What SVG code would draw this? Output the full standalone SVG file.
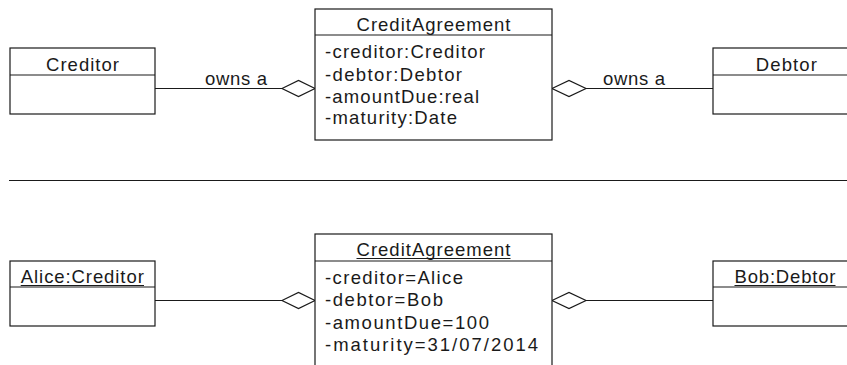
<svg xmlns="http://www.w3.org/2000/svg" width="847" height="365" viewBox="0 0 847 365">
<style>
  .box { fill: #ffffff; stroke: #1a1a1a; stroke-width: 1.2; }
  .sep { stroke: #1a1a1a; stroke-width: 1.2; fill: none; }
  .conn { stroke: #1a1a1a; stroke-width: 1.2; fill: none; }
  .dia { fill: #ffffff; stroke: #1a1a1a; stroke-width: 1.2; }
  .ul { stroke: #1a1a1a; stroke-width: 1.1; }
  text { font-family: "Liberation Sans", Arial, Helvetica, sans-serif; font-size: 18.5px; fill: #1a1a1a; }
  .c { text-anchor: middle; }
</style>
<rect width="847" height="365" fill="#ffffff"/>

<g id="connectors">
  <line class="conn" x1="155" y1="88.5" x2="282" y2="88.5"/>
  <polygon class="dia" points="282,88.5 298.5,80.5 315,88.5 298.5,96.5"/>
  <line class="conn" x1="586" y1="88.5" x2="713" y2="88.5"/>
  <polygon class="dia" points="552,88.5 569,80.5 586,88.5 569,96.5"/>
  <text x="205" y="85" textLength="62" lengthAdjust="spacing">owns a</text>
  <text x="603" y="85" textLength="62" lengthAdjust="spacing">owns a</text>

  <line class="conn" x1="155" y1="300.5" x2="282" y2="300.5"/>
  <polygon class="dia" points="282,300.5 298.5,292.5 315,300.5 298.5,308.5"/>
  <line class="conn" x1="586" y1="300.5" x2="713" y2="300.5"/>
  <polygon class="dia" points="552,300.5 569,292.5 586,300.5 569,308.5"/>
</g>

<line id="separator" class="sep" x1="9" y1="180.5" x2="847" y2="180.5"/>

<g id="creditor">
  <rect class="box" x="10" y="48" width="145" height="66"/>
  <line class="sep" x1="10" y1="75" x2="155" y2="75"/>
  <text class="c" x="82.5" y="71" textLength="73" lengthAdjust="spacing">Creditor</text>
</g>

<g id="creditAgreement">
  <rect class="box" x="315" y="9" width="237" height="131"/>
  <line class="sep" x1="315" y1="35" x2="552" y2="35"/>
  <text class="c" x="433.5" y="31" textLength="154" lengthAdjust="spacing">CreditAgreement</text>
  <text x="325" y="58" textLength="160" lengthAdjust="spacing">-creditor:Creditor</text>
  <text x="325" y="80.5" textLength="137" lengthAdjust="spacing">-debtor:Debtor</text>
  <text x="325" y="102.5" textLength="154" lengthAdjust="spacing">-amountDue:real</text>
  <text x="325" y="124" textLength="132" lengthAdjust="spacing">-maturity:Date</text>
</g>

<g id="debtor">
  <rect class="box" x="713" y="48" width="147" height="66"/>
  <line class="sep" x1="713" y1="75" x2="860" y2="75"/>
  <text class="c" x="786.3" y="71" textLength="61" lengthAdjust="spacing">Debtor</text>
</g>

<g id="aliceCreditor">
  <rect class="box" x="10" y="261" width="145" height="65"/>
  <line class="sep" x1="10" y1="287" x2="155" y2="287"/>
  <text class="c" x="82.3" y="283" textLength="123" lengthAdjust="spacing">Alice:Creditor</text>
  <line class="ul" x1="20.7" y1="285.5" x2="144" y2="285.5"/>
</g>

<g id="creditAgreementInstance">
  <rect class="box" x="315" y="234" width="237" height="140"/>
  <line class="sep" x1="315" y1="261" x2="552" y2="261"/>
  <text class="c" x="433.5" y="256" textLength="154" lengthAdjust="spacing">CreditAgreement</text>
  <line class="ul" x1="356.5" y1="258.5" x2="510.5" y2="258.5"/>
  <text x="325" y="283.5" textLength="138" lengthAdjust="spacing">-creditor=Alice</text>
  <text x="325" y="306" textLength="118" lengthAdjust="spacing">-debtor=Bob</text>
  <text x="325" y="328.5" textLength="164" lengthAdjust="spacing">-amountDue=100</text>
  <text x="325" y="350.5" textLength="213" lengthAdjust="spacing">-maturity=31/07/2014</text>
</g>

<g id="bobDebtor">
  <rect class="box" x="713" y="261" width="147" height="65"/>
  <line class="sep" x1="713" y1="287" x2="860" y2="287"/>
  <text class="c" x="785" y="283" textLength="101" lengthAdjust="spacing">Bob:Debtor</text>
  <line class="ul" x1="734.5" y1="285.5" x2="835.5" y2="285.5"/>
</g>
</svg>
